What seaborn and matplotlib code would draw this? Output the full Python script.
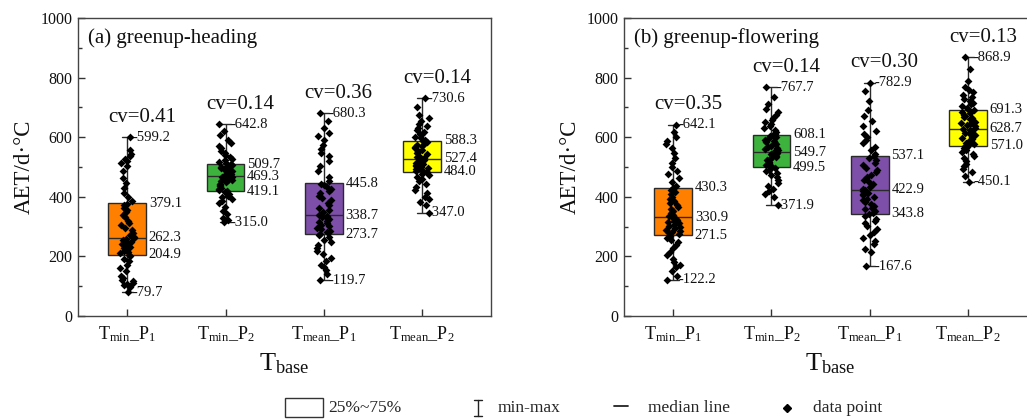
import numpy as np
import pandas as pd
import matplotlib
matplotlib.use("Agg")
import matplotlib.pyplot as plt
from matplotlib.lines import Line2D
from matplotlib.patches import Rectangle
from matplotlib.ticker import MultipleLocator
import seaborn as sns

# ---------------- data ----------------
categories = ["Tmin_P1", "Tmin_P2", "Tmean_P1", "Tmean_P2"]
tick_labels = [r"$\mathrm{T_{min}\_P_1}$", r"$\mathrm{T_{min}\_P_2}$",
               r"$\mathrm{T_{mean}\_P_1}$", r"$\mathrm{T_{mean}\_P_2}$"]
box_colors = ["#FF8000", "#3DB33D", "#7E4FA8", "#FFFF00"]

# five-number summaries (min, q1, median, q3, max)
stats_a = {
    "Tmin_P1": [79.7, 204.9, 262.3, 379.1, 599.2],
    "Tmin_P2": [315.0, 419.1, 469.3, 509.7, 642.8],
    "Tmean_P1": [119.7, 273.7, 338.7, 445.8, 680.3],
    "Tmean_P2": [347.0, 484.0, 527.4, 588.3, 730.6],
}
stats_b = {
    "Tmin_P1": [122.2, 271.5, 330.9, 430.3, 642.1],
    "Tmin_P2": [371.9, 499.5, 549.7, 608.1, 767.7],
    "Tmean_P1": [167.6, 343.8, 422.9, 537.1, 782.9],
    "Tmean_P2": [450.1, 571.0, 628.7, 691.3, 868.9],
}
cv_a = [0.41, 0.14, 0.36, 0.14]
cv_b = [0.35, 0.14, 0.30, 0.13]

# individual observations (AET, d·°C)
pts_a_tmin_p1 = [79.7, 98, 104, 108, 112, 118, 121, 126, 135, 150, 162, 171, 183, 192, 200,
                 206, 210, 215, 219, 224, 229, 233, 238, 242, 246, 249, 252, 255, 258, 261,
                 265, 272, 280, 288, 296, 305, 312, 320, 331, 340, 348, 356, 364, 371, 377,
                 385, 398, 412, 428, 446, 462, 488, 503, 512, 520, 528, 536, 545, 556, 599.2]
pts_a_tmin_p2 = [315.0, 322, 330, 341, 352, 366, 378, 386, 393, 398, 403, 407, 411, 415, 418,
                 422, 427, 431, 436, 440, 444, 448, 452, 455, 458, 461, 463, 465, 467, 469,
                 471, 474, 477, 480, 483, 486, 489, 492, 495, 498, 500, 503, 505, 507, 509,
                 512, 517, 522, 528, 534, 541, 548, 555, 563, 571, 580, 592, 606, 622, 642.8]
pts_a_tmean_p1 = [119.7, 142, 155, 163, 172, 184, 196, 207, 218, 229, 238, 247, 256, 264, 271,
                  276, 281, 286, 291, 296, 301, 306, 311, 316, 320, 324, 328, 332, 335, 338,
                  342, 349, 356, 364, 372, 380, 388, 396, 404, 412, 419, 426, 432, 438, 444,
                  452, 468, 485, 503, 520, 536, 548, 560, 575, 590, 603, 615, 630, 655, 680.3]
pts_a_tmean_p2 = [347.0, 372, 383, 392, 401, 412, 422, 434, 443, 452, 460, 467, 473, 478, 482,
                  486, 489, 493, 496, 499, 503, 506, 509, 512, 515, 518, 520, 522, 524, 527,
                  530, 534, 538, 542, 546, 550, 554, 558, 563, 567, 571, 575, 579, 583, 587,
                  591, 596, 601, 606, 612, 618, 624, 631, 638, 645, 654, 663, 675, 700, 730.6]
pts_b_tmin_p1 = [122.2, 135, 152, 163, 172, 180, 192, 205, 216, 228, 238, 248, 256, 263, 270,
                 274, 278, 282, 286, 290, 294, 298, 303, 307, 311, 315, 319, 323, 327, 330,
                 334, 340, 346, 352, 359, 366, 373, 380, 387, 394, 401, 408, 415, 422, 429,
                 436, 448, 462, 475, 488, 500, 512, 530, 548, 565, 578, 588, 600, 618, 642.1]
pts_b_tmin_p2 = [371.9, 400, 410, 418, 426, 435, 446, 456, 465, 473, 480, 486, 491, 495, 498,
                 502, 506, 510, 514, 518, 522, 526, 530, 534, 537, 540, 543, 545, 547, 549,
                 552, 556, 560, 564, 568, 572, 576, 580, 584, 588, 592, 596, 600, 604, 607,
                 612, 618, 624, 630, 637, 644, 651, 658, 666, 674, 684, 695, 712, 735, 767.7]
pts_b_tmean_p1 = [167.6, 215, 225, 240, 252, 262, 272, 283, 293, 302, 311, 319, 327, 335, 342,
                  347, 352, 358, 364, 370, 376, 382, 388, 394, 400, 405, 410, 414, 418, 422,
                  427, 434, 442, 450, 458, 466, 474, 482, 490, 498, 506, 514, 522, 529, 536,
                  545, 556, 568, 580, 591, 600, 610, 622, 638, 655, 672, 690, 720, 755, 782.9]
pts_b_tmean_p2 = [450.1, 470, 482, 492, 502, 511, 520, 529, 537, 545, 552, 558, 563, 567, 570,
                  574, 578, 582, 586, 590, 594, 598, 602, 606, 610, 614, 618, 622, 625, 628,
                  632, 636, 640, 644, 648, 652, 656, 660, 664, 668, 672, 676, 680, 684, 690,
                  694, 699, 704, 710, 716, 722, 728, 735, 742, 750, 758, 768, 790, 830, 868.9]

points_a = dict(zip(categories, [pts_a_tmin_p1, pts_a_tmin_p2, pts_a_tmean_p1, pts_a_tmean_p2]))
points_b = dict(zip(categories, [pts_b_tmin_p1, pts_b_tmin_p2, pts_b_tmean_p1, pts_b_tmean_p2]))

titles = ["(a) greenup-heading", "(b) greenup-flowering"]

# ---------------- style ----------------
sns.set_theme(style="ticks")
plt.rcParams["font.family"] = ["Liberation Serif", "DejaVu Serif"]
plt.rcParams["mathtext.fontset"] = "custom"
plt.rcParams["mathtext.rm"] = "Liberation Serif"
plt.rcParams["mathtext.it"] = "Liberation Serif:italic"
plt.rcParams["mathtext.bf"] = "Liberation Serif:bold"

W, H = 1027, 419
fig = plt.figure(figsize=(W / 100, H / 100), dpi=100)
ax_a = fig.add_axes([78 / W, 1 - 316 / H, 413 / W, 298 / H])
ax_b = fig.add_axes([624 / W, 1 - 316 / H, 413 / W, 298 / H])

EDGE = "#2a2a2a"
BOX_W = 0.38


def long_form(d):
    rows = [(c, v) for c in categories for v in d[c]]
    return pd.DataFrame(rows, columns=["Tbase", "AET"])


def draw_panel(ax, stats, points, cvs, title, seed):
    df_box = long_form(stats)
    df_pts = long_form(points)
    sns.boxplot(data=df_box, x="Tbase", y="AET", hue="Tbase", order=categories,
                hue_order=categories, palette=box_colors, saturation=1,
                whis=(0, 100), width=BOX_W, linecolor=EDGE, linewidth=1.0,
                capwidths=0.11, legend=False, ax=ax)
    np.random.seed(seed)
    sns.stripplot(data=df_pts, x="Tbase", y="AET", order=categories, color="black",
                  marker="D", size=4.0, linewidth=0, jitter=0.075, zorder=4, ax=ax)

    for i, c in enumerate(categories):
        vmin, q1, med, q3, vmax = stats[c]
        for v in (q1, med, q3):
            ax.text(i + BOX_W / 2 + 0.03, v, f"{v:.1f}", ha="left", va="center",
                    fontsize=10.5, color="#111111")
        for v in (vmin, vmax):
            ax.text(i + 0.05, v, f"-{v:.1f}", ha="left", va="center",
                    fontsize=10.5, color="#111111")
        ax.text(i + 0.15, vmax + 52, f"cv={cvs[i]:.2f}", ha="center", va="baseline",
                fontsize=15, color="#111111")

    ax.set_xlim(-0.5, 3.7)
    ax.set_ylim(0, 1000)
    ax.yaxis.set_major_locator(MultipleLocator(200))
    ax.yaxis.set_minor_locator(MultipleLocator(100))
    ax.set_xticks(range(len(categories)))
    ax.set_xticklabels(tick_labels, fontsize=13)
    ax.tick_params(axis="both", which="both", direction="in", colors="#333333",
                   labelcolor="#111111")
    ax.tick_params(axis="both", which="major", length=5, width=1)
    ax.tick_params(axis="y", which="minor", length=3, width=1)
    ax.tick_params(axis="y", labelsize=11.5, pad=4)
    ax.tick_params(axis="x", pad=6)
    for s in ax.spines.values():
        s.set_visible(True)
        s.set_color("#444444")
        s.set_linewidth(1.0)
    ax.set_xlabel(r"$\mathrm{T_{base}}$", fontsize=19, labelpad=5, color="#111111")
    ax.set_ylabel("AET/d·°C", fontsize=16.5, labelpad=4, color="#111111")
    ax.text(0.024, 0.916, title, transform=ax.transAxes, fontsize=15,
            ha="left", va="baseline", color="#111111")


draw_panel(ax_a, stats_a, points_a, cv_a, titles[0], 3)
draw_panel(ax_b, stats_b, points_b, cv_b, titles[1], 7)

# ---------------- shared key ----------------
def fx(px):
    return px / W


def fy(py):
    return 1 - py / H


tf = fig.transFigure
fig.add_artist(Rectangle((fx(285), fy(417)), fx(323) - fx(285), fy(398) - fy(417),
                         transform=tf, facecolor="white", edgecolor="#333333", lw=1))
fig.text(fx(328), fy(408), "25%~75%", fontsize=12.5, va="center", ha="left")
fig.add_artist(Line2D([fx(478), fx(478)], [fy(400), fy(416)], transform=tf,
                      color="#222222", lw=1))
for yy in (400, 416):
    fig.add_artist(Line2D([fx(474), fx(482)], [fy(yy), fy(yy)], transform=tf,
                          color="#222222", lw=1))
fig.text(fx(498), fy(408), "min-max", fontsize=12.5, va="center", ha="left")
fig.add_artist(Line2D([fx(614), fx(628)], [fy(406), fy(406)], transform=tf,
                      color="#222222", lw=1.3))
fig.text(fx(648), fy(408), "median line", fontsize=12.5, va="center", ha="left")
fig.add_artist(Line2D([fx(787)], [fy(408)], transform=tf, marker="D", markersize=4.0,
                      color="black", lw=0))
fig.text(fx(813), fy(408), "data point", fontsize=12.5, va="center", ha="left")

fig.savefig("out.png", dpi=100)
